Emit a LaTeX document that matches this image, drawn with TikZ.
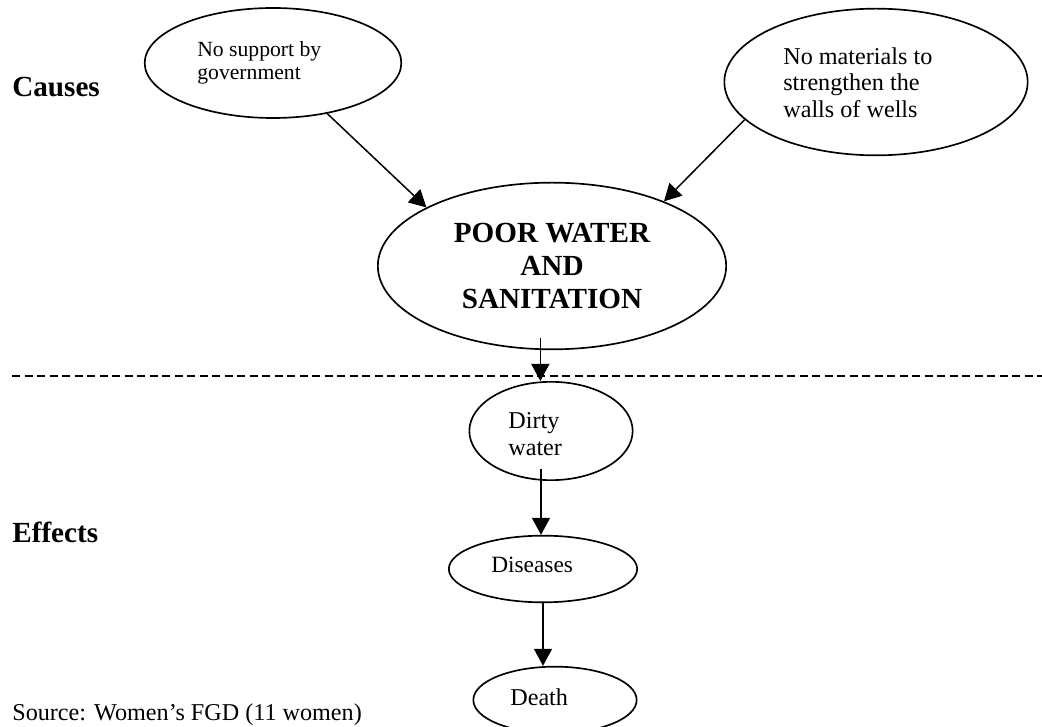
\documentclass[tikz,border=0pt]{standalone}
\usepackage{fontspec}
\setmainfont{Liberation Serif}
\usetikzlibrary{shapes.geometric,arrows.meta}

\tikzset{
	bubble/.style={ellipse, draw, line width=1pt, inner sep=0pt},
	words/.style={inner sep=0pt, align=left, anchor=north west},
	oneline/.style={inner sep=0pt, anchor=base west},
	heading/.style={inner sep=0pt, anchor=base west, font=\fontsize{17.5}{20}\selectfont\bfseries},
	arrow/.style={-{Triangle[width=10.8pt,length=10.2pt]}, line width=0.9pt},
	divider/.style={dash pattern=on 4.8pt off 2.7pt, line width=1.2pt}
}

\begin{document}
\begin{tikzpicture}[x=0.6pt, y=-0.6pt]
\useasboundingbox (0,0) rectangle (1042,727);
\clip (0,0) rectangle (1042,727);

% causes
\node (causes) at (12,97) [heading] {Causes};
\node (gov) at (273,63) [bubble, minimum width=154pt, minimum height=66pt] {};
\node (govtxt) at (197,41) [words, font=\fontsize{13}{13.8}\selectfont] {No support by\\government};
\node (mat) at (876,82) [bubble, minimum width=182pt, minimum height=88pt] {};
\node (mattxt) at (783,47) [words, font=\fontsize{14.5}{15.9}\selectfont] {No materials to\\strengthen the\\walls of wells};

% problem
\node (main) at (552,266) [bubble, align=center, minimum width=209pt, minimum height=100pt, font=\fontsize{17.5}{20}\selectfont\bfseries] {POOR WATER\\AND\\SANITATION};

\draw [arrow] (gov.-43) -- (main.155);
\draw [arrow] (mat.-164) -- (main.30);

\coordinate (dl) at (12,376);
\coordinate (dr) at (1042,376);
\draw [divider] (dl) -- (dr);

% effects
\node (effects) at (12,543) [heading] {Effects};
\node (dirty) at (551,431) [bubble, minimum width=98pt, minimum height=59pt] {};
\node (dirtytxt) at (508,412) [words, font=\fontsize{14.5}{16.2}\selectfont] {Dirty\\water};
\node (dis) at (543,569) [bubble, minimum width=113pt, minimum height=40pt] {};
\node (distxt) at (491,573) [oneline, font=\fontsize{14}{16}\selectfont] {Diseases};
\node (death) at (555,700) [bubble, minimum width=98pt, minimum height=40pt] {};
\node (deathtxt) at (510,705) [oneline, font=\fontsize{14.5}{16}\selectfont] {Death};

\draw [arrow] ([xshift=-7pt,yshift=7pt]main.south) -- ([xshift=-7pt]main.south |- dirty.north);
\draw [arrow] ([xshift=-6pt,yshift=7pt]dirty.south) -- ([xshift=-6pt]dirty.south |- dis.north);
\draw [arrow] (dis.south) -- (dis.south |- death.north);

\node (src) at (12,720) [oneline, font=\fontsize{14.5}{16}\selectfont] {Source: Women’s FGD (11 women)};

\end{tikzpicture}
\end{document}
